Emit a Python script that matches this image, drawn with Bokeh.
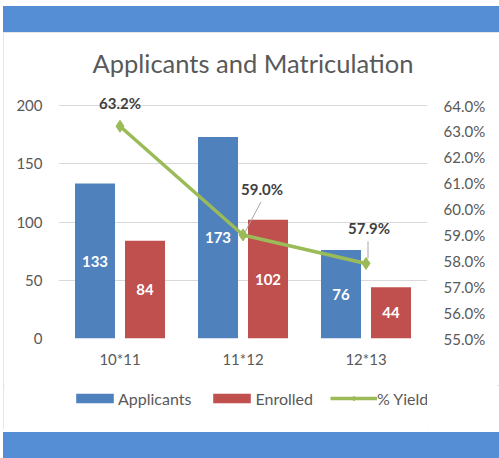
from bokeh.plotting import figure
from bokeh.models import (ColumnDataSource, FactorRange, Range1d, LinearAxis,
                          FixedTicker, PrintfTickFormatter, Legend,
                          LegendItem, Div, Spacer, CDSView, IndexFilter)
from bokeh.layouts import column
from bokeh.transform import dodge
from bokeh.core.properties import value
from bokeh.embed import file_html
from bokeh.resources import INLINE

# ---- data ----
categories = ["10*11", "11*12", "12*13"]
applicants = [133, 173, 76]
enrolled = [84, 102, 44]
yield_pct = [63.2, 59.0, 57.9]
left_ticks = [0, 50, 100, 150, 200]
right_ticks = [55, 56, 57, 58, 59, 60, 61, 62, 63, 64]

# ---- styles ----
FONT = "Lato"
BLUE = "#4F81BD"
RED = "#C0504D"
GREEN = "#9BBB59"
BAND = "#558ED5"
GRAY_TXT = "#595959"
DARK_TXT = "#404040"
GRID = "#D9D9D9"

W = 496
H = 353          # main chart figure
LH = 44          # legend strip
ML, MR, MT, MB = 55, 72, 56, 47
frame_w = W - ML - MR
frame_h = H - MT - MB
axis_px = 233.0  # pixels spanned by the 0..200 / 55..64 scale
px_per_cat = frame_w / len(categories)
px_per_pct = axis_px / 9.0

bar_off = 25 / px_per_cat
bar_w = 40 / px_per_cat

# label offsets (screen px, x right / y down)
lbl_dx = [0, 19, 3]
lbl_dy = [-23, -46, -35]

src = ColumnDataSource(dict(
    cat=categories,
    app=applicants,
    enr=enrolled,
    yld=yield_pct,
    app_mid=[v / 2 for v in applicants],
    enr_mid=[v / 2 for v in enrolled],
    app_lbl=[str(v) for v in applicants],
    enr_lbl=[str(v) for v in enrolled],
    yld_lbl=[f"{v:.1f}%" for v in yield_pct],
    dx=lbl_dx,
    dy=lbl_dy,
))

y_top = 200 * frame_h / axis_px
pct_top = 55 + 9 * frame_h / axis_px

p = figure(x_range=FactorRange(*categories), y_range=Range1d(0, y_top),
           width=W, height=H, output_backend="svg", toolbar_location=None,
           min_border_left=ML, min_border_right=MR, min_border_top=MT,
           min_border_bottom=MB, title="Applicants and Matriculation")
p.extra_y_ranges = {"pct": Range1d(55, pct_top)}
p.outline_line_color = None
p.background_fill_color = "white"
p.border_fill_color = "white"
p.margin = 0

p.title.text_font = FONT
p.title.text_font_size = "25.5px"
p.title.text_font_style = "normal"
p.title.text_color = GRAY_TXT
p.title.align = "left"
p.title.standoff = 21
p.title.offset = 34

p.xgrid.grid_line_color = None
p.ygrid.grid_line_color = GRID
p.ygrid.ticker = FixedTicker(ticks=left_ticks)

def style_axis(ax, standoff):
    ax.axis_line_color = None
    ax.major_tick_line_color = None
    ax.minor_tick_line_color = None
    ax.major_tick_in = 0
    ax.major_tick_out = 0
    ax.minor_tick_in = 0
    ax.minor_tick_out = 0
    ax.major_label_text_font = FONT
    ax.major_label_text_font_size = "15px"
    ax.major_label_text_color = GRAY_TXT
    ax.major_label_standoff = standoff

style_axis(p.xaxis[0], 11)
p.yaxis[0].ticker = FixedTicker(ticks=left_ticks)
style_axis(p.yaxis[0], 16)

rax = LinearAxis(y_range_name="pct", ticker=FixedTicker(ticks=right_ticks),
                 formatter=PrintfTickFormatter(format="%.1f%%"))
style_axis(rax, 16)
p.add_layout(rax, "right")

# bars
r_app = p.vbar(x=dodge("cat", -bar_off, range=p.x_range), top="app", width=bar_w,
               source=src, fill_color=BLUE, line_color=None)
r_enr = p.vbar(x=dodge("cat", bar_off, range=p.x_range), top="enr", width=bar_w,
               source=src, fill_color=RED, line_color=None)

# bar labels
for col, lbl, off in (("app_mid", "app_lbl", -bar_off), ("enr_mid", "enr_lbl", bar_off)):
    p.text(x=dodge("cat", off, range=p.x_range), y=col, text=lbl, source=src,
           text_align="center", text_baseline="middle",
           text_font=value(FONT), text_font_style="bold",
           text_font_size="15px", text_color="white")

# leader lines (label 2 and 3)
leaders = [(1, 2, -3, 18, -33), (2, 2, -5, 2, -22)]
for idx, x0, y0, x1, y1 in leaders:
    p.segment(x0=dodge("cat", x0 / px_per_cat, range=p.x_range),
              y0=dodge("yld", -y0 / px_per_pct),
              x1=dodge("cat", x1 / px_per_cat, range=p.x_range),
              y1=dodge("yld", -y1 / px_per_pct),
              source=src, view=CDSView(filter=IndexFilter([idx])),
              y_range_name="pct", line_color="#A6A6A6", line_width=1)

# yield line
p.line(x="cat", y="yld", source=src, y_range_name="pct",
       line_color=GREEN, line_width=3.5)
p.scatter(x="cat", y="yld", source=src, y_range_name="pct",
          marker="diamond", size=12, fill_color=GREEN, line_color=GREEN)

p.text(x="cat", y="yld", text="yld_lbl", source=src, y_range_name="pct",
       x_offset="dx", y_offset="dy",
       text_align="center", text_baseline="middle",
       text_font=value(FONT), text_font_style="bold",
       text_font_size="15px", text_color=DARK_TXT)

# ---- legend strip (same series, drawn out of its view; only the legend shows) ----
lf = figure(x_range=FactorRange(*categories), y_range=Range1d(1000, 1001),
            width=W, height=LH, output_backend="svg", toolbar_location=None,
            min_border=0)
lf.margin = 0
lf.axis.visible = False
lf.grid.visible = False
lf.outline_line_color = None
lf.border_fill_color = "white"
lg_app = lf.vbar(x="cat", top="app", width=0.3, source=src, fill_color=BLUE, line_color=None)
lg_enr = lf.vbar(x="cat", top="enr", width=0.3, source=src, fill_color=RED, line_color=None)
lg_line = lf.line(x="cat", y="yld", source=src, line_color=GREEN, line_width=3.5)
lg_pts = lf.scatter(x="cat", y="yld", source=src, marker="diamond", size=12,
                    fill_color=GREEN, line_color=GREEN)

legend = Legend(items=[
    LegendItem(label="Applicants", renderers=[lg_app]),
    LegendItem(label="Enrolled", renderers=[lg_enr]),
    LegendItem(label="% Yield", renderers=[lg_line, lg_pts]),
], orientation="horizontal", location=(13, 21))
legend.border_line_color = None
legend.background_fill_alpha = 0
legend.label_text_font = FONT
legend.label_text_font_size = "16px"
legend.label_text_color = GRAY_TXT
legend.glyph_width = 47
legend.glyph_height = 12
legend.label_height = 20
legend.label_standoff = 0
legend.spacing = 17
legend.margin = 0
legend.padding = 0
lf.add_layout(legend, "center")

chart_box = column(p, lf, spacing=0, margin=0,
                   styles={"outline": "2px solid #DEDEDE", "outline-offset": "-2px"})

top_band = Div(width=W, height=26, margin=0, styles={"background-color": BAND})
bottom_band = Div(width=W, height=26, margin=0, styles={"background-color": BAND})
gap = Spacer(width=W, height=3, margin=0)

layout = column(top_band, chart_box, gap, bottom_band, spacing=0, margin=(6, 0, 0, 3))

open("out.html", "w").write(file_html(layout, INLINE))
